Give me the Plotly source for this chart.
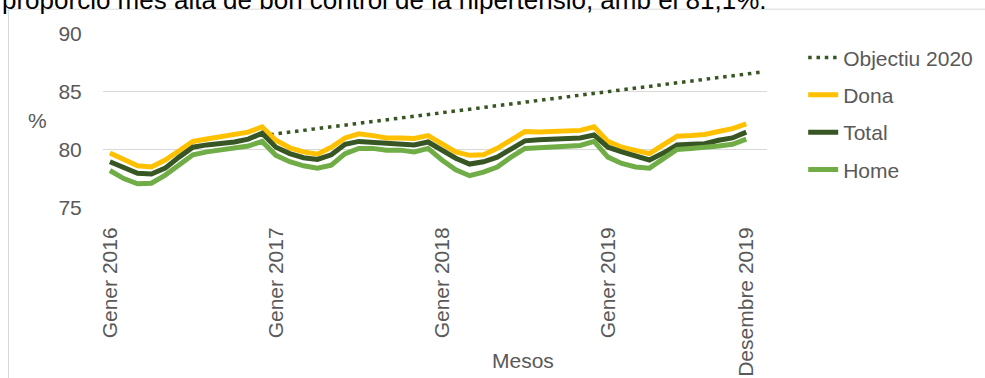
import plotly.graph_objects as go

# ---- data ----
month_index = list(range(47))
tick_positions = [0, 12, 24, 36, 46]
tick_labels = ["Gener 2016", "Gener 2017", "Gener 2018", "Gener 2019", "Desembre 2019"]

dona = [79.7, 79.2, 78.6, 78.5, 79.1, 79.9, 80.7, 80.9, 81.1, 81.3, 81.5, 81.95,
        80.8, 80.15, 79.8, 79.6, 80.2, 81.0, 81.35, 81.2, 81.0, 81.0, 80.95, 81.2,
        80.5, 79.8, 79.5, 79.55, 80.1, 80.8, 81.55, 81.5, 81.55, 81.55, 81.65, 81.95,
        80.7, 80.2, 79.95, 79.65, 80.4, 81.15, 81.2, 81.3, 81.55, 81.8, 82.2]
total = [78.95, 78.45, 77.95, 77.9, 78.4, 79.35, 80.2, 80.4, 80.5, 80.65, 80.9, 81.4,
         80.2, 79.65, 79.3, 79.15, 79.55, 80.45, 80.7, 80.6, 80.5, 80.45, 80.4, 80.65,
         79.95, 79.25, 78.75, 78.95, 79.35, 80.1, 80.75, 80.85, 80.9, 80.9, 81.0, 81.25,
         80.2, 79.8, 79.5, 79.1, 79.7, 80.4, 80.45, 80.5, 80.8, 81.0, 81.5]
home = [78.2, 77.5, 77.05, 77.1, 77.8, 78.65, 79.55, 79.8, 80.0, 80.1, 80.3, 80.7,
        79.5, 78.95, 78.6, 78.4, 78.65, 79.65, 80.1, 80.1, 79.95, 79.95, 79.8, 80.1,
        79.1, 78.25, 77.75, 78.05, 78.5, 79.35, 80.1, 80.15, 80.2, 80.3, 80.35, 80.7,
        79.35, 78.8, 78.5, 78.4, 79.25, 80.0, 80.1, 80.15, 80.3, 80.45, 80.9]
objectiu_x = [11, 47]
objectiu_y = [81.2, 86.65]

FONT = "Liberation Sans, Arial, sans-serif"
GREY = "#595959"
FS = 21

fig = go.Figure()
fig.add_trace(go.Scatter(x=objectiu_x, y=objectiu_y, mode="lines", name="Objectiu 2020",
                         legendgroup="a",
                         line=dict(color="#375623", width=3.5, dash="3.5px,4.8px")))
fig.add_trace(go.Scatter(x=month_index, y=dona, mode="lines", name="Dona", legendgroup="b",
                         line=dict(color="#FFC000", width=5)))
fig.add_trace(go.Scatter(x=month_index, y=total, mode="lines", name="Total", legendgroup="c",
                         line=dict(color="#375623", width=5)))
fig.add_trace(go.Scatter(x=month_index, y=home, mode="lines", name="Home", legendgroup="d",
                         line=dict(color="#70AD47", width=5)))

fig.update_layout(
    width=985, height=378,
    margin=dict(l=103, r=218, t=33, b=170, autoexpand=False),
    paper_bgcolor="white", plot_bgcolor="white",
    font=dict(family=FONT, size=FS, color=GREY),
    showlegend=True,
    legend=dict(x=1.0545, xanchor="left", y=0.975, yanchor="top",
                font=dict(family=FONT, size=FS, color=GREY),
                traceorder="grouped", tracegroupgap=7,
                bgcolor="rgba(0,0,0,0)"),
    xaxis=dict(range=[-0.5, 47.5], tickmode="array", tickvals=tick_positions,
               ticktext=tick_labels, tickangle=-90, showgrid=False, zeroline=False,
               showline=False, ticks="outside", ticklen=10, tickcolor="rgba(0,0,0,0)",
               automargin=False,
               tickfont=dict(family=FONT, size=FS, color=GREY)),
    yaxis=dict(range=[74.97, 90.03], tickvals=[75, 80, 85, 90], showgrid=True,
               gridcolor="#d9d9d9", gridwidth=1.3, zeroline=False, showline=False,
               ticks="outside", ticklen=16, tickcolor="rgba(0,0,0,0)",
               automargin=False,
               tickfont=dict(family=FONT, size=FS, color=GREY)),
    annotations=[
        dict(text="Mesos", xref="paper", yref="paper", x=0.6325, y=-0.872,
             xanchor="center", yanchor="middle", showarrow=False,
             font=dict(family=FONT, size=FS, color=GREY)),
        dict(text="%", xref="paper", yref="paper", x=-0.098, y=0.5,
             xanchor="center", yanchor="middle", showarrow=False,
             font=dict(family=FONT, size=FS, color=GREY)),
        dict(text="proporció més alta de bon control de la hipertensió, amb el 81,1%.",
             xref="paper", yref="paper", x=-0.155, y=1.089,
             xanchor="left", yanchor="bottom", showarrow=False,
             font=dict(family=FONT, size=26, color="black")),
    ],
    shapes=[
        dict(type="rect", xref="paper", yref="paper", x0=-0.1423, x1=1.6, y0=-1.5, y1=1.136,
             line=dict(color="#d9d9d9", width=1), fillcolor="rgba(0,0,0,0)", layer="below"),
    ],
)

fig.write_html("out.html")
